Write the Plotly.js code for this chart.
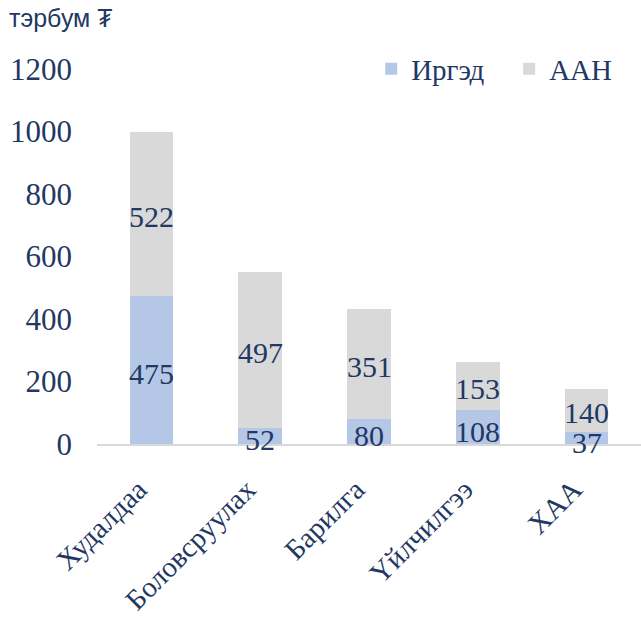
<!DOCTYPE html>
<html><head><meta charset="utf-8">
<script src="https://cdn.plot.ly/plotly-3.0.1.min.js"></script>
<style>body{margin:0;background:#fff}#c{width:641px;height:620px}</style>
</head><body><div id="c"></div>
<script>
var categories = ["Худалдаа", "Боловсруулах", "Барилга", "Үйлчилгээ", "ХАА"];
var irged = [475, 52, 80, 108, 37];
var aan = [522, 497, 351, 153, 140];
var seriesNames = ["Иргэд", "ААН"];
var unitLabel = "тэрбум ₮";
var yTicks = [0, 200, 400, 600, 800, 1000, 1200];

var navy = "#1f3864";
var serif = "Liberation Serif, Times New Roman, serif";

var data = [
  {type: "bar", x: categories, y: irged, name: seriesNames[0], marker: {color: "#b4c7e7"}, hoverinfo: "skip"},
  {type: "bar", x: categories, y: aan, name: seriesNames[1], marker: {color: "#d9d9d9"}, hoverinfo: "skip"}
];

var annotations = [{text: unitLabel, xref: "paper", yref: "paper", x: -0.165, y: 1.137, xanchor: "left", yanchor: "middle", showarrow: false,
    font: {family: "Liberation Sans, Arial, sans-serif", size: 25, color: navy}}];
categories.forEach(function(c, i){
  annotations.push({x: c, y: irged[i] / 2, xref: "x", yref: "y", text: String(irged[i]), showarrow: false, yshift: -4,
    font: {family: serif, size: 30, color: navy}});
  annotations.push({x: c, y: irged[i] + aan[i] / 2, xref: "x", yref: "y", text: String(aan[i]), showarrow: false, yshift: -2,
    font: {family: serif, size: 30, color: navy}});
});

var layout = {
  width: 641, height: 620,
  margin: {l: 97, r: 0, t: 69, b: 176, autoexpand: false},
  barmode: "stack",
  bargap: 0.6,
  paper_bgcolor: "#fff", plot_bgcolor: "#fff",
  font: {family: serif, color: navy, size: 31},
  xaxis: {tickangle: -45, tickfont: {family: serif, size: 29, color: navy}, showline: true, linecolor: "#d9d9d9", linewidth: 2, ticks: "", showgrid: false, zeroline: false, ticklabelshift: -13, ticklabelstandoff: 15},
  yaxis: {range: [0, 1200], tickvals: yTicks, ticktext: yTicks.map(String), tickfont: {family: serif, size: 31, color: navy}, showgrid: false, zeroline: false, showline: false, ticks: "", ticklabelstandoff: 24},
  legend: {orientation: "h", traceorder: "normal", x: 0.504, y: 1.0, xanchor: "left", yanchor: "middle", font: {family: serif, size: 29, color: navy}, itemwidth: 30, entrywidth: 93, entrywidthmode: "pixels", bgcolor: "rgba(0,0,0,0)"},
  annotations: annotations
};

Plotly.newPlot("c", data, layout, {displayModeBar: false, staticPlot: true});
</script></body></html>
